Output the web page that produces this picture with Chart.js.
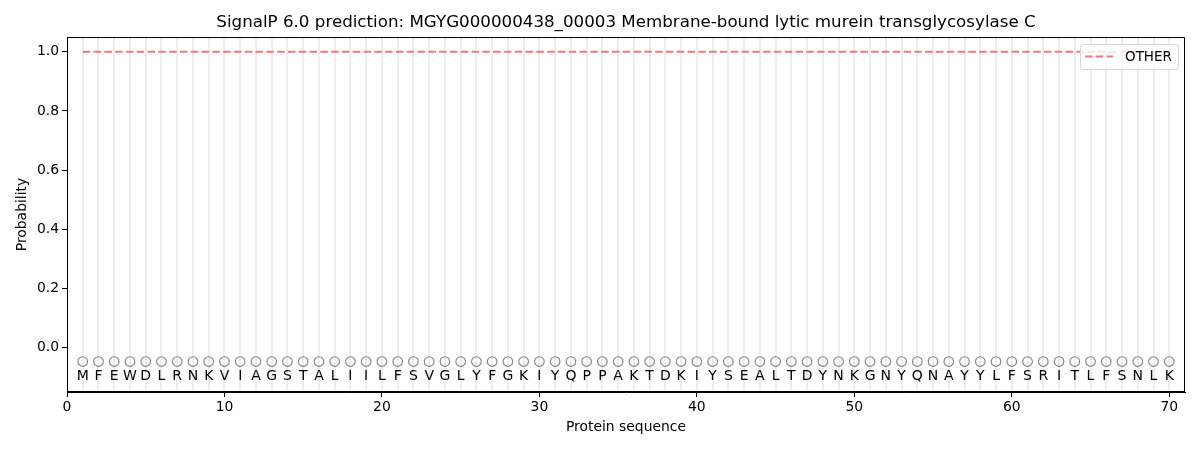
<!DOCTYPE html>
<html lang="en">
<head>
    <meta charset="UTF-8">
    <title>SignalP 6.0 prediction</title>
    <script src="https://cdn.jsdelivr.net/npm/chart.js"></script>
    <style>
        html, body { margin: 0; padding: 0; background: #fff; }
        #wrap { width: 1200px; height: 450px; }
    </style>
</head>
<body>
    <div id="wrap"><canvas id="signalChart" width="1200" height="450"></canvas></div>
    <script>
        // sequence and per-residue prediction
        const residues = ['M','F','E','W','D','L','R','N','K','V','I','A','G','S','T','A','L','I','I','L',
                          'F','S','V','G','L','Y','F','G','K','I','Y','Q','P','P','A','K','T','D','K','I',
                          'Y','S','E','A','L','T','D','Y','N','K','G','N','Y','Q','N','A','Y','Y','L','F',
                          'S','R','I','T','L','F','S','N','L','K'];
        const positions = residues.map((r, i) => i + 1);
        const otherProb = [1,1,1,1,1,1,1,1,1,1, 1,1,1,1,1,1,1,1,1,1,
                           1,1,1,1,1,1,1,1,1,1, 1,1,1,1,1,1,1,1,1,1,
                           1,1,1,1,1,1,1,1,1,1, 1,1,1,1,1,1,1,1,1,1,
                           1,1,1,1,1,1,1,1,1,1];
        const labelTrack = 'O';   // predicted class for every residue
        const xTicks = [0, 10, 20, 30, 40, 50, 60, 70];
        const yTicks = [0, 0.2, 0.4, 0.6, 0.8, 1.0];

        const FONT = 'DejaVu Sans';

        // light vertical guide at every residue, letters under the circles, frame and legend
        const decor = {
            id: 'decor',
            beforeDatasetsDraw(chart) {
                const { ctx, chartArea: a, scales: { x } } = chart;
                ctx.save();
                ctx.strokeStyle = 'rgba(215,215,215,0.45)';
                ctx.lineWidth = 2;
                positions.forEach(p => {
                    const px = Math.round(x.getPixelForValue(p));
                    ctx.beginPath();
                    ctx.moveTo(px, a.top);
                    ctx.lineTo(px, a.bottom);
                    ctx.stroke();
                });
                ctx.restore();
            },
            afterDatasetsDraw(chart) {
                const { ctx, chartArea: a, scales: { x, y } } = chart;
                ctx.save();
                ctx.fillStyle = '#000';
                ctx.font = '14px "' + FONT + '"';
                ctx.textAlign = 'center';
                ctx.textBaseline = 'middle';
                residues.forEach((r, i) => {
                    ctx.fillText(r, x.getPixelForValue(positions[i]), y.getPixelForValue(-0.098));
                });

                // axes frame
                ctx.strokeStyle = '#000';
                ctx.lineWidth = 1;
                ctx.strokeRect(a.left + 0.5, a.top + 0.5, a.right - a.left - 1, a.bottom - a.top - 1);

                // legend
                const bx = 1080, by = 44, bw = 98, bh = 25;
                ctx.fillStyle = 'rgba(255,255,255,0.8)';
                ctx.strokeStyle = '#d6d6d6';
                ctx.beginPath();
                ctx.roundRect(bx + 0.5, by + 0.5, bw, bh, 3);
                ctx.fill();
                ctx.stroke();
                ctx.strokeStyle = 'rgba(240,120,120,1)';
                ctx.lineWidth = 2;
                ctx.setLineDash([7.5, 3.3]);
                ctx.beginPath();
                ctx.moveTo(bx + 5, by + 12.5);
                ctx.lineTo(bx + 33, by + 12.5);
                ctx.stroke();
                ctx.setLineDash([]);
                ctx.fillStyle = '#000';
                ctx.font = '13.5px "' + FONT + '"';
                ctx.textAlign = 'left';
                ctx.fillText('OTHER', bx + 45, by + 13);
                ctx.restore();
            }
        };

        const ctx = document.getElementById('signalChart').getContext('2d');
        new Chart(ctx, {
            type: 'scatter',
            data: {
                datasets: [
                    {
                        label: 'OTHER',
                        type: 'line',
                        data: positions.map((p, i) => ({ x: p, y: otherProb[i] })),
                        borderColor: 'rgba(240,120,120,1)',
                        borderWidth: 2,
                        borderDash: [7.5, 3.3],
                        pointRadius: 0,
                        fill: false
                    },
                    {
                        label: labelTrack,
                        data: positions.map(p => ({ x: p, y: -0.047 })),
                        pointStyle: 'circle',
                        pointRadius: 4.8,
                        borderColor: 'rgb(128,128,128)',
                        backgroundColor: 'rgba(0,0,0,0)',
                        borderWidth: 1.1
                    }
                ]
            },
            options: {
                responsive: false,
                animation: false,
                devicePixelRatio: 1,
                layout: { padding: { left: 0, right: 15, top: 0, bottom: 0 } },
                plugins: {
                    legend: { display: false },
                    tooltip: { enabled: false },
                    title: {
                        display: true,
                        fullSize: false,
                        text: 'SignalP 6.0 prediction: MGYG000000438_00003 Membrane-bound lytic murein transglycosylase C',
                        color: '#000',
                        font: { family: FONT, size: 16.7, weight: 'normal' },
                        padding: { top: 13, bottom: 4 }
                    }
                },
                scales: {
                    x: {
                        type: 'linear',
                        min: 0,
                        max: 71,
                        afterBuildTicks: s => { s.ticks = xTicks.map(v => ({ value: v })); },
                        afterFit: s => { s.height = 58; },
                        grid: { drawOnChartArea: false, tickLength: 5, tickColor: '#000' },
                        border: { color: '#000' },
                        ticks: { color: '#000', font: { family: FONT, size: 13.9 }, padding: 2, maxRotation: 0 },
                        title: {
                            display: true,
                            text: 'Protein sequence',
                            color: '#000',
                            font: { family: FONT, size: 13.9 },
                            padding: { top: 4, bottom: 14 }
                        }
                    },
                    y: {
                        min: -0.15,
                        max: 1.05,
                        afterBuildTicks: s => { s.ticks = yTicks.map(v => ({ value: v })); },
                        afterFit: s => { s.width = 67; },
                        grid: { drawOnChartArea: false, tickLength: 5, tickColor: '#000' },
                        border: { color: '#000' },
                        ticks: {
                            color: '#000',
                            font: { family: FONT, size: 13.9 },
                            padding: 3,
                            callback: v => v.toFixed(1)
                        },
                        title: {
                            display: true,
                            text: 'Probability',
                            color: '#000',
                            font: { family: FONT, size: 13.9 },
                            padding: { top: 14, bottom: 4 }
                        }
                    }
                }
            },
            plugins: [decor]
        });
    </script>
</body>
</html>
